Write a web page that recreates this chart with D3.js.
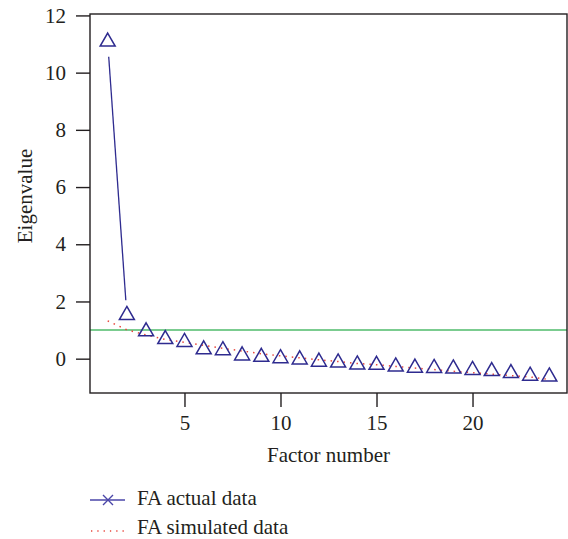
<!DOCTYPE html>
<html>
<head>
<meta charset="utf-8">
<script src="https://cdn.jsdelivr.net/npm/d3@7"></script>
<style>
  body { margin: 0; background: #fff; }
  text { font-family: "Liberation Serif", "Times New Roman", serif; fill: #231f20; }
</style>
</head>
<body>
<div id="chart"></div>
<script>
// data
const factors = d3.range(1, 25)
const actualData = [11.08, 1.52, 0.95, 0.68, 0.58, 0.32, 0.29, 0.11, 0.06, 0.01, -0.03, -0.11,
    -0.14, -0.21, -0.22, -0.28, -0.32, -0.33, -0.35, -0.40, -0.44, -0.51, -0.60, -0.63]
const simulatedData = [1.32, 1.01, 0.83, 0.67, 0.57, 0.47, 0.36, 0.27, 0.17, 0.10, 0.03, -0.04,
    -0.10, -0.17, -0.21, -0.27, -0.33, -0.38, -0.44, -0.49, -0.54, -0.59, -0.64, -0.73]
const xTicks = [5, 10, 15, 20]
const yTicks = [0, 2, 4, 6, 8, 10, 12]
const kaiserLine = 1
const legendLabels = ["FA actual data", "FA simulated data"]

const blue = "#2e2b8f", red = "#e8473d", green = "#4fbb6b"

// set the dimensions and margins of the graph
let margin = { top: 14, right: 1, bottom: 146, left: 90 },
    width = 568 - margin.left - margin.right,
    height = 539 - margin.top - margin.bottom;

// set the ranges
let x = d3.scaleLinear().domain([0.08, 24.92]).range([0, width])
let y = d3.scaleLinear().domain([-1.2, 12.05]).range([height, 0])

let svg = d3.select("#chart").append("svg")
    .attr("width", 568)
    .attr("height", 539)
    .append("g")
    .attr("transform", "translate(" + margin.left + "," + margin.top + ")");

// kaiser line at 1
svg.append("line")
    .attr("x1", 0).attr("x2", width)
    .attr("y1", y(kaiserLine)).attr("y2", y(kaiserLine))
    .attr("stroke", green)
    .attr("stroke-width", 1.6)

// simulated data, dotted
let line = d3.line()
    .x((d, i) => x(factors[i]))
    .y(d => y(d))
svg.append("path")
    .datum(simulatedData)
    .attr("d", line)
    .attr("fill", "none")
    .attr("stroke", red)
    .attr("stroke-width", 1.5)
    .attr("stroke-dasharray", "1.5,5")

// actual data: line with gaps round the points (type "b")
const gap = 15
for (let i = 0; i < actualData.length - 1; i++) {
    let x1 = x(factors[i]), y1 = y(actualData[i])
    let x2 = x(factors[i + 1]), y2 = y(actualData[i + 1])
    let len = Math.hypot(x2 - x1, y2 - y1)
    if (len <= 2 * gap) continue
    let ux = (x2 - x1) / len, uy = (y2 - y1) / len
    svg.append("line")
        .attr("x1", x1 + ux * gap).attr("y1", y1 + uy * gap)
        .attr("x2", x2 - ux * gap).attr("y2", y2 - uy * gap)
        .attr("stroke", blue)
        .attr("stroke-width", 1.3)
}

// triangles
const tri = "M0,-8.7L7.5,4.35L-7.5,4.35Z"
svg.selectAll(".tri")
    .data(actualData)
    .enter().append("path")
    .attr("class", "tri")
    .attr("d", tri)
    .attr("transform", (d, i) => "translate(" + x(factors[i]) + "," + y(d) + ")")
    .attr("fill", "none")
    .attr("stroke", blue)
    .attr("stroke-width", 1.5)

// frame
svg.append("rect")
    .attr("x", 0).attr("y", 0)
    .attr("width", width).attr("height", height)
    .attr("fill", "none")
    .attr("stroke", "#231f20")
    .attr("stroke-width", 1.4)

// add the x Axis
let xAxis = svg.append("g")
    .attr("transform", "translate(0," + height + ")")
    .call(d3.axisBottom(x).tickValues(xTicks).tickSize(14).tickPadding(8).tickFormat(d3.format("d")))
xAxis.select(".domain").remove()
xAxis.selectAll("line").attr("stroke", "#231f20").attr("stroke-width", 1.4)
xAxis.selectAll("text").attr("font-size", 21).attr("fill", "#231f20")
    .attr("font-family", "Liberation Serif, serif")

// add the y Axis
let yAxis = svg.append("g")
    .call(d3.axisLeft(y).tickValues(yTicks).tickSize(14).tickPadding(10).tickFormat(d3.format("d")))
yAxis.select(".domain").remove()
yAxis.selectAll("line").attr("stroke", "#231f20").attr("stroke-width", 1.4)
yAxis.selectAll("text").attr("font-size", 21).attr("fill", "#231f20")
    .attr("font-family", "Liberation Serif, serif")

// axis titles
svg.append("text")
    .text("Factor number")
    .attr("x", width / 2)
    .attr("y", 462 - margin.top)
    .attr("text-anchor", "middle")
    .attr("font-size", 21)

svg.append("text")
    .text("Eigenvalue")
    .attr("transform", "translate(" + (32 - margin.left) + "," + (196 - margin.top) + ") rotate(-90)")
    .attr("text-anchor", "middle")
    .attr("font-size", 21)

// legend
let legend = d3.select("svg").append("g")
legend.append("line")
    .attr("x1", 90).attr("x2", 125).attr("y1", 500).attr("y2", 500)
    .attr("stroke", "#4a46a8").attr("stroke-width", 1.4)
legend.append("path")
    .attr("d", "M103,495L113,505M103,505L113,495")
    .attr("stroke", "#4a46a8").attr("stroke-width", 1.4)
legend.append("line")
    .attr("x1", 91).attr("x2", 126).attr("y1", 531).attr("y2", 531)
    .attr("stroke", red).attr("stroke-width", 1.3)
    .attr("stroke-dasharray", "1.3,5")
legend.selectAll(".lab")
    .data(legendLabels)
    .enter().append("text")
    .attr("class", "lab")
    .text(d => d)
    .attr("x", 137)
    .attr("y", (d, i) => 505 + i * 29)
    .attr("font-size", 21)
</script>
</body>
</html>
